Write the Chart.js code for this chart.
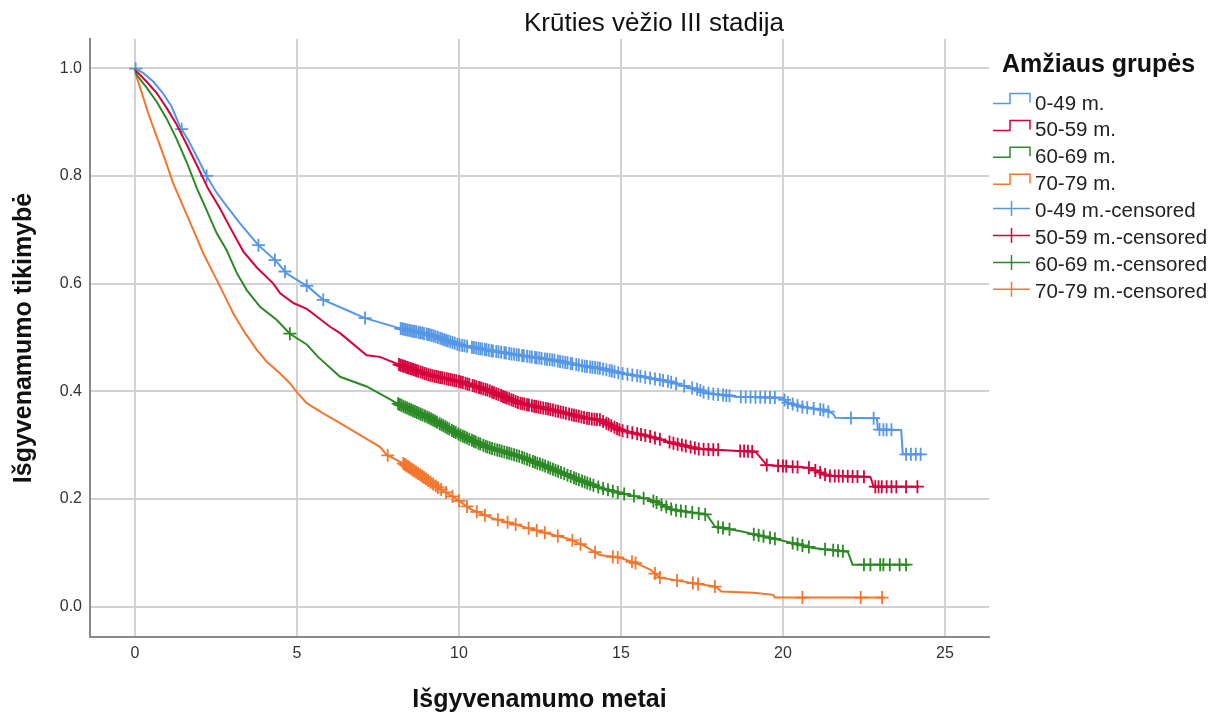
<!DOCTYPE html>
<html lang="lt">
<head>
  <meta charset="UTF-8" />
  <title>Krūties vėžio III stadija</title>
  <script src="https://cdn.jsdelivr.net/npm/chart.js@4.4.0/dist/chart.umd.min.js"></script>
  <style>
    html,body{margin:0;padding:0;background:#fff}
    #wrap{width:1210px;height:715px}
  </style>
</head>
<body>
<div id="wrap"><canvas id="km" width="1210" height="715"></canvas></div>
<script>
/* groups + labels */
const groups = ['0-49 m.', '50-59 m.', '60-69 m.', '70-79 m.'];
const colors = ['#5697e7', '#d4033c', '#2c8a25', '#f3762f'];
const chartTitle = 'Krūties vėžio III stadija';
const legendTitle = 'Amžiaus grupės';
const xTitle = 'Išgyvenamumo metai';
const yTitle = 'Išgyvenamumo tikimybė';
const xTicks = [0, 5, 10, 15, 20, 25];
const yTicks = [0, 0.2, 0.4, 0.6, 0.8, 1.0];

/* survival curves: years / survival probability */
const years049 = [0,0.26,0.57,0.87,1.13,1.38,1.64,1.90,2.21,2.52,2.83,3.24,3.80,4.37,4.68,5.35,5.81,6.53,7.10,8.18,9.10,10.03,10.85,11.88,12.91,13.94,14.35,14.97,15.68,16.5,16.82,17.4,17.6,18.6,20.0,20.1,20.6,21.3,21.55,21.62,22.9,22.93,23.65,23.7,24.3];
const surv049  = [1.0,0.991,0.975,0.953,0.929,0.893,0.867,0.837,0.800,0.769,0.744,0.712,0.672,0.641,0.619,0.594,0.570,0.551,0.536,0.517,0.505,0.486,0.477,0.467,0.458,0.446,0.443,0.434,0.427,0.418,0.412,0.403,0.397,0.390,0.388,0.380,0.371,0.365,0.358,0.351,0.350,0.329,0.328,0.283,0.283];

const years5059 = [0,0.05,0.36,0.67,0.98,1.29,1.60,1.91,2.26,2.62,2.93,3.34,3.76,4.27,4.48,4.89,5.30,5.61,6.02,6.33,7.15,7.56,8.18,9.10,10.03,10.85,11.88,12.91,13.94,14.35,14.97,15.9,16.6,17.4,19.15,19.5,20.8,21.4,22.7,22.8,24.2];
const surv5059  = [1.0,0.994,0.975,0.954,0.926,0.895,0.858,0.820,0.776,0.740,0.705,0.660,0.630,0.600,0.582,0.564,0.553,0.539,0.520,0.508,0.467,0.464,0.449,0.430,0.418,0.403,0.378,0.365,0.350,0.347,0.328,0.316,0.304,0.293,0.288,0.263,0.258,0.243,0.241,0.223,0.223];

const years6069 = [0,0.05,0.36,0.67,0.98,1.29,1.60,1.91,2.22,2.52,2.83,3.14,3.45,3.86,4.37,4.78,5.30,5.65,6.33,7.15,8.18,9.10,10.03,10.85,11.88,12.71,13.73,14.35,14.97,15.9,16.6,17.65,17.9,18.77,19.9,20.93,22.0,22.15,23.9];
const surv6069  = [1.0,0.988,0.964,0.938,0.906,0.868,0.825,0.777,0.735,0.694,0.662,0.620,0.588,0.557,0.533,0.507,0.487,0.464,0.427,0.409,0.375,0.350,0.319,0.297,0.279,0.260,0.235,0.221,0.211,0.199,0.180,0.171,0.149,0.139,0.124,0.109,0.102,0.078,0.078];

const years7079 = [0,0.05,0.21,0.41,0.67,0.93,1.18,1.49,1.80,2.11,2.42,2.73,3.03,3.40,3.76,4.07,4.48,4.78,4.99,5.30,5.81,6.33,6.94,7.56,7.77,8.28,8.80,9.31,9.82,10.4,11.0,11.6,12.2,12.8,13.4,13.9,14.35,14.97,15.5,15.9,16.2,16.9,17.93,18.1,19.1,19.7,19.75,23.1];
const surv7079  = [1.0,0.984,0.954,0.916,0.873,0.830,0.786,0.743,0.700,0.656,0.619,0.582,0.545,0.508,0.477,0.455,0.433,0.415,0.399,0.378,0.359,0.341,0.319,0.297,0.282,0.266,0.245,0.223,0.204,0.180,0.165,0.155,0.145,0.135,0.126,0.112,0.096,0.091,0.080,0.069,0.054,0.047,0.037,0.028,0.026,0.022,0.017,0.017];

/* censored observation times (years) */
const cens049 = [0.02,1.44,2.21,3.81,4.32,4.63,5.30,5.81,7.10,
  8.20,8.25,8.30,8.35,8.40,8.46,8.52,8.58,8.63,8.68,8.75,8.80,8.86,8.92,9.00,9.05,9.10,9.16,9.22,9.28,9.35,9.42,9.48,
  9.54,9.60,9.66,9.73,9.80,9.87,9.95,10.02,10.10,10.17,10.25,10.40,10.46,10.53,10.60,10.66,10.72,10.80,10.85,10.92,
  11.00,11.05,11.15,11.22,11.30,11.40,11.45,11.55,11.62,11.70,11.78,11.85,11.95,12.00,12.10,12.18,12.25,12.35,12.40,
  12.48,12.55,12.65,12.72,12.80,12.88,12.95,13.05,13.12,13.20,13.28,13.35,13.45,13.50,13.62,13.70,13.80,13.88,13.95,
  14.05,14.12,14.20,14.28,14.35,14.45,14.55,14.65,14.72,14.80,14.92,15.05,15.20,15.35,15.50,15.60,15.75,15.90,16.05,
  16.20,16.30,16.45,16.55,16.70,16.95,17.20,17.35,17.45,17.55,17.70,17.85,18.00,18.15,18.25,18.35,18.70,18.85,19.00,
  19.15,19.30,19.45,19.60,19.75,20.05,20.15,20.30,20.45,20.60,20.75,20.95,21.15,21.25,21.40,22.10,22.80,22.98,23.10,
  23.20,23.35,23.80,23.95,24.10,24.25];
const cens5059 = [8.15,8.20,8.25,8.30,8.35,8.40,8.45,8.50,8.55,8.60,8.65,8.70,8.75,8.82,8.88,8.94,9.00,9.06,9.12,9.18,
  9.24,9.30,9.36,9.42,9.48,9.55,9.62,9.68,9.74,9.80,9.86,9.92,10.00,10.06,10.12,10.20,10.26,10.32,10.42,10.48,10.54,
  10.62,10.68,10.75,10.82,10.88,10.95,11.02,11.08,11.15,11.22,11.30,11.36,11.42,11.48,11.55,11.62,11.68,11.75,11.82,
  11.90,11.96,12.02,12.10,12.16,12.25,12.32,12.38,12.45,12.52,12.60,12.68,12.75,12.82,12.90,12.98,13.06,13.14,13.22,
  13.30,13.40,13.48,13.55,13.62,13.70,13.78,13.86,13.95,14.02,14.10,14.18,14.26,14.35,14.45,14.55,14.62,14.70,14.80,
  14.88,14.95,15.05,15.20,15.35,15.50,15.62,15.75,15.90,16.05,16.20,16.50,16.62,16.75,16.88,17.00,17.15,17.28,17.40,
  17.55,17.70,17.85,18.00,18.68,18.80,18.92,19.05,19.50,19.85,20.00,20.10,20.30,20.45,20.80,21.00,21.15,
  21.30,21.45,21.60,21.72,21.85,22.00,22.15,22.30,22.50,22.85,22.95,23.05,23.20,23.35,23.50,23.80,24.15];
const cens6069 = [4.78,8.12,8.17,8.22,8.28,8.34,8.40,8.46,8.52,8.58,8.64,8.70,8.76,8.82,8.88,8.95,9.02,9.08,9.14,9.20,
  9.26,9.32,9.40,9.46,9.52,9.58,9.64,9.70,9.78,9.84,9.90,9.98,10.05,10.12,10.18,10.25,10.32,10.40,10.46,10.52,10.60,
  10.66,10.75,10.82,10.88,10.95,11.02,11.10,11.18,11.25,11.32,11.40,11.48,11.55,11.62,11.70,11.78,11.86,11.95,12.02,
  12.10,12.18,12.28,12.35,12.42,12.50,12.58,12.66,12.75,12.82,12.90,12.98,13.06,13.15,13.25,13.35,13.45,13.55,13.62,
  13.70,13.80,13.88,13.96,14.05,14.15,14.30,14.45,14.60,14.75,14.90,15.10,15.40,15.70,16.00,16.10,16.25,16.40,16.55,
  16.70,16.85,17.00,17.20,17.40,17.60,18.00,18.15,18.35,19.10,19.25,19.40,19.60,19.75,20.30,20.45,20.60,20.80,21.30,
  21.55,21.70,21.85,22.50,22.70,23.00,23.10,23.30,23.60,23.80];
const cens7079 = [7.80,8.28,8.33,8.38,8.43,8.48,8.53,8.58,8.63,8.68,8.74,8.80,8.86,8.92,8.98,9.05,9.12,9.20,9.28,9.35,
  9.45,9.60,9.80,10.00,10.25,10.55,10.80,11.20,11.50,11.75,12.15,12.40,12.65,13.05,13.50,13.75,14.20,14.75,14.90,
  15.34,15.45,16.05,16.20,16.73,17.22,17.38,17.90,20.60,22.40,23.06];

const curveYears = [years049, years5059, years6069, years7079];
const curveSurv = [surv049, surv5059, surv6069, surv7079];
const censYears = [cens049, cens5059, cens6069, cens7079];

// position of a censored mark on its group's drawn curve
function curveAt(ts, ss, t) {
  for (let i = 1; i < ts.length; i++) {
    if (t <= ts[i]) {
      const f = (t - ts[i-1]) / (ts[i] - ts[i-1] || 1);
      return ss[i-1] + f * (ss[i] - ss[i-1]);
    }
  }
  return ss[ss.length - 1];
}

const FONT = "'Liberation Sans', Arial, sans-serif";
Chart.defaults.font.family = FONT;

const datasets = [];
groups.forEach((g, k) => {
  datasets.push({
    label: g, showLine: true, borderColor: colors[k], backgroundColor: colors[k],
    borderWidth: 2, pointRadius: 0, tension: 0, fill: false,
    data: curveYears[k].map((t, i) => ({x: t, y: curveSurv[k][i]}))
  });
});
groups.forEach((g, k) => {
  datasets.push({
    label: g + '-censored', showLine: false, borderColor: colors[k], backgroundColor: colors[k],
    pointStyle: 'cross', pointRadius: 6.5, borderWidth: 1.8,
    data: censYears[k].map(t => ({x: t, y: curveAt(curveYears[k], curveSurv[k], t)}))
  });
});

/* title + legend with step / cross keys */
const decor = {
  id: 'decor',
  afterDraw(chart) {
    const ctx = chart.ctx;
    ctx.save();
    ctx.fillStyle = '#111';
    ctx.textBaseline = 'alphabetic';
    ctx.textAlign = 'center';
    ctx.font = '26px ' + FONT;
    ctx.fillText(chartTitle, 654, 31);

    ctx.textAlign = 'left';
    ctx.font = 'bold 25px ' + FONT;
    ctx.fillText(legendTitle, 1002, 72);

    ctx.font = '20.5px ' + FONT;
    ctx.fillStyle = '#222';
    const rows = groups.concat(groups.map(g => g + '-censored'));
    rows.forEach((label, i) => {
      const base = 109.5 + i * 26.9;
      ctx.strokeStyle = colors[i % 4];
      ctx.lineWidth = 1.5;
      ctx.beginPath();
      if (i < 4) {
        ctx.moveTo(993, base - 6); ctx.lineTo(1010, base - 6);
        ctx.lineTo(1010, base - 16); ctx.lineTo(1030, base - 16);
        ctx.lineTo(1030, base - 7);
      } else {
        ctx.moveTo(993, base - 8.5); ctx.lineTo(1030, base - 8.5);
        ctx.moveTo(1011.5, base - 16); ctx.lineTo(1011.5, base - 1);
      }
      ctx.stroke();
      ctx.fillText(label, 1035, base);
    });
    ctx.restore();
  }
};

new Chart(document.getElementById('km'), {
  type: 'scatter',
  data: {datasets},
  plugins: [decor],
  options: {
    responsive: false, animation: false, devicePixelRatio: 1,
    layout: {padding: {top: 39, right: 221, left: 0, bottom: 0}},
    plugins: {legend: {display: false}, tooltip: {enabled: false}, title: {display: false}},
    scales: {
      x: {
        type: 'linear', min: -1.389, max: 26.36,
        afterBuildTicks: s => { s.ticks = xTicks.map(v => ({value: v})); },
        afterFit: s => { s.height = 78; },
        grid: {color: '#d2d2d2', lineWidth: 2, drawTicks: false},
        border: {color: '#8a8a8a', width: 2},
        ticks: {color: '#333', font: {size: 16}, padding: 7},
        title: {display: true, text: xTitle, color: '#111', font: {size: 25, weight: 'bold'}, padding: {top: 0, bottom: 0}}
      },
      y: {
        type: 'linear', min: -0.0563, max: 1.0544,
        afterBuildTicks: s => { s.ticks = yTicks.map(v => ({value: v})); },
        afterFit: s => { s.width = 90; },
        grid: {color: '#d2d2d2', lineWidth: 2, drawTicks: false},
        border: {color: '#8a8a8a', width: 2},
        ticks: {color: '#333', font: {size: 16}, padding: 8, callback: v => v.toFixed(1)},
        title: {display: true, text: yTitle, color: '#111', font: {size: 25, weight: 'bold'}, padding: {top: 9, bottom: 0}}
      }
    }
  }
});
</script>
</body>
</html>
